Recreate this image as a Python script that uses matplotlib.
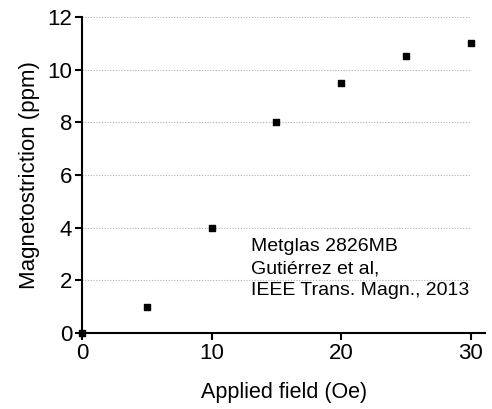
import matplotlib
matplotlib.use('Agg')
import matplotlib.pyplot as plt

plt.rcParams['font.family'] = ['Liberation Sans', 'DejaVu Sans']

field_oe = [0, 5, 10, 15, 20, 25, 30]
strain_ppm = [0, 1, 4, 8, 9.5, 10.5, 11]
x_ticks = [0, 10, 20, 30]
y_ticks = [0, 2, 4, 6, 8, 10, 12]
note_lines = ['Metglas 2826MB', 'Gutiérrez et al,', 'IEEE Trans. Magn., 2013']

fig = plt.figure(figsize=(4.92, 4.09), dpi=100)
ax = fig.add_axes([0.1667, 0.1858, 0.8193, 0.7727])

# dotted grid lines stop at the last tick (x=30)
for yv in y_ticks[1:]:
    ax.plot([x_ticks[0], x_ticks[-1]], [yv, yv], linestyle=(0, (1, 1.5)),
            color='#b0b0b0', linewidth=0.8, zorder=1)

ax.scatter(field_oe, strain_ppm, marker='s', s=22, color='black',
           zorder=3, clip_on=False)

ax.set_xlim(0, 31.1)
ax.set_ylim(0, 12)
ax.set_xticks(x_ticks)
ax.set_yticks(y_ticks)
ax.tick_params(labelsize=16, width=1.5, length=5, direction='out', pad=2)

for side in ['top', 'right']:
    ax.spines[side].set_visible(False)
for side in ['left', 'bottom']:
    ax.spines[side].set_linewidth(1.5)

ax.set_xlabel('Applied field (Oe)', fontsize=15.5, labelpad=13)
ax.set_ylabel('Magnetostriction (ppm)', fontsize=16, labelpad=5)

ax.text(13, 3.6, '\n'.join(note_lines), fontsize=14, va='top', ha='left',
        linespacing=1.38)

fig.savefig('out.png', dpi=100)
